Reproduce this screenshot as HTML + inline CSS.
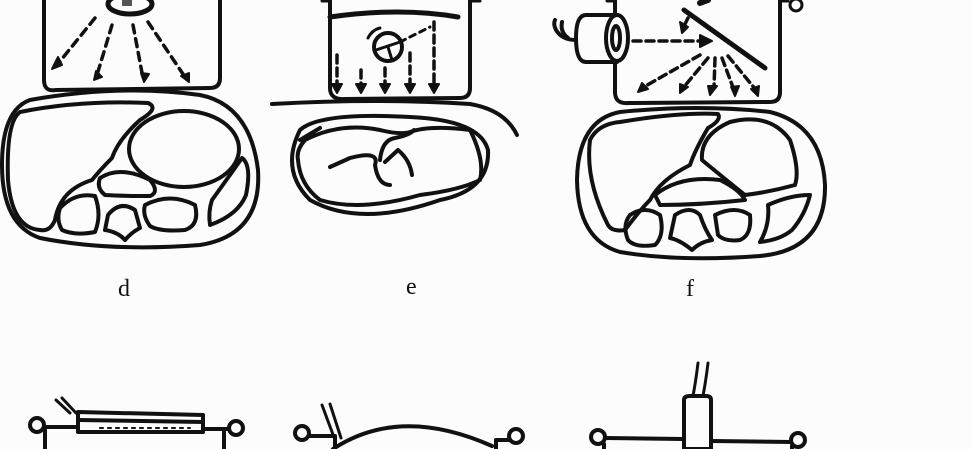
<!DOCTYPE html>
<html><head><meta charset="utf-8"><style>
html,body{margin:0;padding:0;background:#fdfcfd;}
svg{display:block}
text{font-family:"Liberation Serif",serif;font-size:24px;fill:#111}
</style></head><body>
<svg width="972" height="449" viewBox="0 0 972 449" fill="none" stroke="#111" stroke-width="4" stroke-linecap="round" stroke-linejoin="round">
<!-- Panel d -->
<path d="M44 0 V80 Q44 92 56 90 L210 88 Q220 88 220 78 V0"/>
<ellipse cx="130" cy="4" rx="22" ry="10" stroke-width="5"/>
<rect x="122" y="0" width="10" height="6" fill="#555" stroke="none"/>
<g stroke-dasharray="8 6" stroke-width="3.5">
<path d="M95 18 L57 65"/><path d="M112 25 L97 75"/><path d="M133 25 L143 78"/><path d="M148 22 L185 77"/>
</g>
<g fill="#111" stroke-width="2">
<path d="M52 69 l10 -4 l-4 -8z"/><path d="M94 80 l8 -3 l-6 -6z"/><path d="M144 82 l5 -8 l-8 -1z"/><path d="M189 82 l0 -9 l-8 3z"/>
</g>
<path d="M30 100 Q120 84 200 95 Q250 105 258 170 Q262 235 200 245 Q110 252 40 238 Q2 225 2 165 Q2 110 30 100Z"/>
<path d="M20 112 Q80 100 148 103 Q160 108 140 120 Q118 140 112 158 Q100 170 92 180 Q60 190 55 220 Q50 232 40 230 Q12 228 8 180 Q6 122 20 112Z"/>
<ellipse cx="184" cy="149" rx="55" ry="38"/>
<path d="M100 178 Q120 165 150 180 Q160 192 150 196 Q120 196 105 195 Q96 188 100 178Z"/>
<path d="M60 208 Q75 192 95 196 Q102 215 95 232 Q75 236 62 230 Q56 220 60 208Z"/>
<path d="M108 215 Q120 200 135 210 L140 228 Q132 232 125 240 Q118 232 105 230Z"/>
<path d="M145 205 Q170 192 195 205 Q200 225 185 230 Q160 232 150 226 Q142 215 145 205Z"/>
<path d="M212 200 Q230 175 242 158 Q252 165 246 195 Q238 215 210 225 Q208 212 212 200Z"/>
<!-- Panel e -->
<path d="M330 0 V88 Q330 100 345 99 L460 98 Q470 98 470 88 V0"/>
<path d="M330 1 h-8 M470 1 h10" stroke-width="3"/>
<path d="M330 17 Q400 7 458 17" stroke-width="5"/>
<circle cx="388" cy="47" r="14"/>
<path d="M376 50 L400 42 M388 47 L392 60" stroke-width="3"/>
<path d="M400 42 L430 27" stroke-dasharray="6 5" stroke-width="3"/>
<path d="M368 38 Q372 30 380 28" stroke-width="3"/>
<g stroke-dasharray="8 5" stroke-width="3.5">
<path d="M337 55 V85"/><path d="M361 70 V85"/><path d="M385 68 V85"/><path d="M410 53 V85"/><path d="M434 22 V85"/>
</g>
<g fill="#111" stroke-width="2">
<path d="M332 84 h10 l-5 9z"/><path d="M356 84 h10 l-5 9z"/><path d="M380 84 h10 l-5 9z"/><path d="M405 84 h10 l-5 9z"/><path d="M429 84 h10 l-5 9z"/>
</g>
<path d="M272 104 Q380 98 470 104 Q505 110 517 135"/>
<path d="M300 130 Q320 112 410 117 Q480 120 488 150 Q490 190 440 200 Q360 228 310 200 Q280 170 300 130Z"/>
<path d="M305 140 Q340 122 380 130 Q400 135 410 132 Q430 125 470 130 Q485 160 480 180 Q460 190 420 195 Q360 212 320 200 Q300 185 298 160 Q296 150 305 140Z"/>
<path d="M300 140 L320 128 M330 167 L350 158 Q380 150 375 165 Q378 185 390 185 M380 160 Q382 140 395 138 Q410 135 414 130 M385 162 L398 150 Q410 160 412 175"/>
<!-- Panel f -->
<path d="M615 0 V92 Q615 104 628 103 L770 102 Q780 102 780 92 V0"/>
<path d="M615 1 h-8 M780 1 h8" stroke-width="3"/>
<circle cx="796" cy="5" r="6" stroke-width="3"/>
<path d="M617 15 H586 Q576 15 576 38 Q576 62 586 62 H617" fill="#fdfcfd"/>
<ellipse cx="617" cy="38" rx="11" ry="23" fill="#fdfcfd"/>
<ellipse cx="616" cy="38" rx="4" ry="12"/>
<path d="M576 40 Q562 40 556 30 Q553 24 555 20 M568 38 Q560 32 562 22" stroke-width="4"/>
<path d="M684 10 L765 68" stroke-width="5"/>
<path d="M700 3 L708 0" stroke-width="6"/>
<g stroke-dasharray="8 5" stroke-width="3.5">
<path d="M633 41 H700"/><path d="M688 18 L684 26"/>
<path d="M700 55 L642 88"/><path d="M708 58 L683 88"/><path d="M715 58 L714 88"/><path d="M722 58 L734 90"/><path d="M728 56 L756 90"/>
</g>
<g fill="#111" stroke-width="2">
<path d="M700 35 l12 6 l-12 6z"/><path d="M680 22 l8 5 l-6 6z"/><path d="M638 92 l4 -9 l6 6z"/><path d="M680 93 l0 -9 l8 3z"/><path d="M710 95 l-2 -9 l9 0z"/><path d="M735 96 l-4 -9 l8 -1z"/><path d="M758 96 l-7 -7 l8 -3z"/>
</g>
<path d="M620 112 Q700 104 770 112 Q822 125 825 185 Q826 250 760 256 Q680 262 620 252 Q578 240 577 180 Q578 120 620 112Z"/>
<path d="M620 122 Q680 112 718 114 Q722 120 708 128 Q695 150 690 165 Q660 180 650 200 Q640 210 625 230 Q612 232 608 225 Q585 180 590 140 Q598 124 620 122Z"/>
<path d="M702 160 Q700 135 730 122 Q770 112 790 140 Q800 170 795 185 Q770 192 745 195 Q720 175 702 160Z"/>
<path d="M655 195 Q680 175 720 180 Q740 190 745 200 Q700 205 660 205Z"/>
<path d="M630 215 Q645 205 660 215 Q665 235 655 245 Q635 248 628 240 Q622 225 630 215Z"/>
<path d="M675 215 Q690 205 700 215 Q705 230 712 240 Q700 242 692 250 Q680 240 670 238Z"/>
<path d="M715 215 Q735 205 750 215 Q752 235 740 240 Q725 242 718 235Z"/>
<path d="M768 205 Q790 195 810 195 Q805 215 792 230 Q780 240 760 242 Q770 225 768 205Z"/>
<!-- labels -->
<text x="118" y="296" stroke="none">d</text>
<text x="406" y="294" stroke="none">e</text>
<text x="686" y="296" stroke="none">f</text>
<!-- Panel g -->
<circle cx="37" cy="425" r="7"/><circle cx="236" cy="428" r="7"/>
<path d="M44 427 H78 M205 429 H229 M45 430 V449 M224 432 V449"/>
<path d="M78 412 L203 415 V432 L78 432Z"/>
<path d="M78 420 L203 422"/>
<path d="M76 413 L62 398 M70 413 L56 400" stroke-width="3"/>
<path d="M100 428 H190" stroke-dasharray="3 5" stroke-width="2"/>
<!-- Panel h -->
<circle cx="302" cy="433" r="7"/><circle cx="516" cy="436" r="7"/>
<path d="M309 436 H335 M335 436 V449 M496 440 H509 M496 440 V449"/>
<path d="M333 449 Q400 405 492 446"/>
<path d="M322 405 L335 440 M330 404 L341 438" stroke-width="3"/>
<!-- Panel i -->
<circle cx="598" cy="437" r="7"/><circle cx="798" cy="440" r="7"/>
<path d="M605 438 L683 439 M712 441 L791 442 M604 444 V449 M792 446 V449"/>
<path d="M684 400 Q684 396 690 396 H706 Q711 396 711 400 V449 H684Z"/>
<path d="M693 396 Q696 380 698 363 M703 396 Q706 380 708 363" stroke-width="3"/>
</svg>
</body></html>
